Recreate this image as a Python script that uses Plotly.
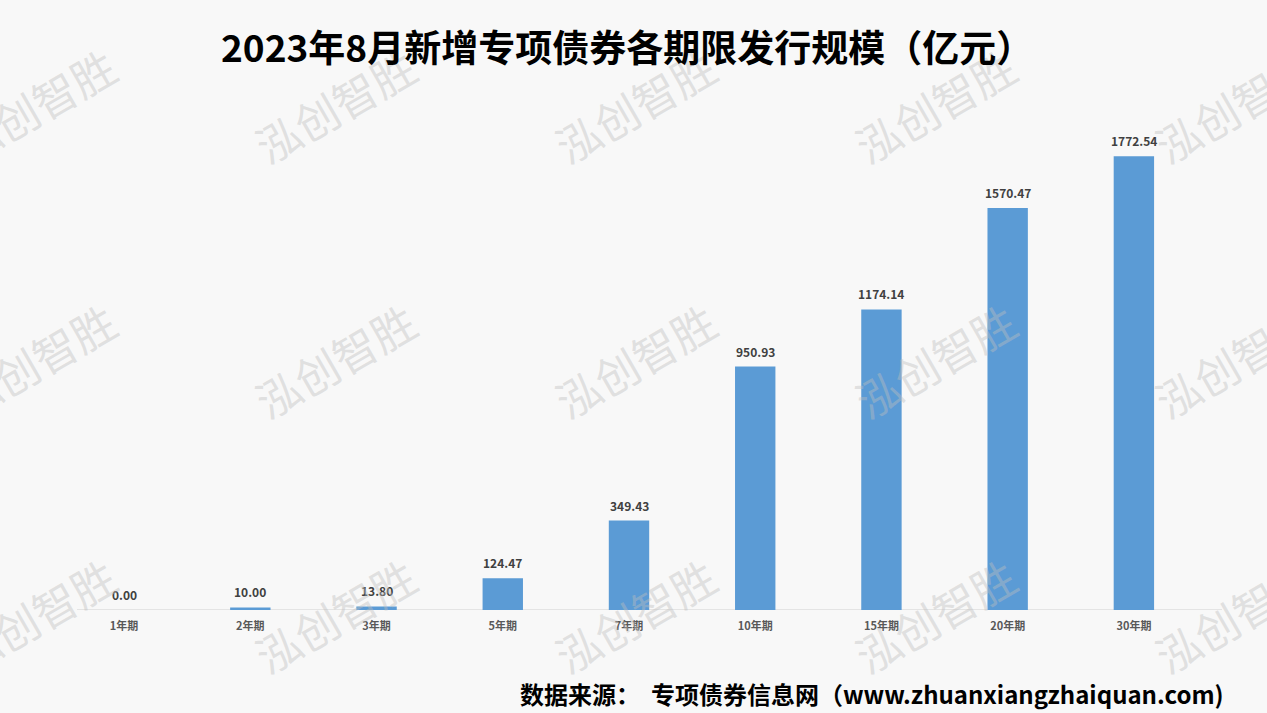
import plotly.graph_objects as go

categories = ["1年期", "2年期", "3年期", "5年期", "7年期", "10年期", "15年期", "20年期", "30年期"]
values = [0.00, 10.00, 13.80, 124.47, 349.43, 950.93, 1174.14, 1570.47, 1772.54]
value_labels = ["0.00", "10.00", "13.80", "124.47", "349.43", "950.93", "1174.14", "1570.47", "1772.54"]
title_text = "2023年8月新增专项债券各期限发行规模（亿元）"
source_text = "数据来源：  专项债券信息网（www.zhuanxiangzhaiquan.com)"
watermark_text = "泓创智胜"

W, H = 1267, 713
FONT = "Noto Sans CJK SC"

fig = go.Figure()
fig.add_trace(go.Bar(
    x=categories, y=values,
    marker=dict(color="#5B9BD5", line=dict(width=0)),
    width=0.32,
    cliponaxis=False,
))

annotations = []
for cat, val, lab in zip(categories, values, value_labels):
    annotations.append(dict(
        x=cat, y=val, xref="x", yref="y", text="<b>" + lab + "</b>",
        showarrow=False, yanchor="bottom", xanchor="center", yshift=5,
        font=dict(family=FONT, size=12, color="#404040"),
    ))
for cx in [35, 335, 635, 935, 1235]:
    for cy in [105, 360, 615]:
        annotations.append(dict(
            x=cx / W, y=1 - cy / H, xref="paper", yref="paper",
            text=watermark_text, showarrow=False, textangle=-30,
            font=dict(family=FONT, size=44, color="rgba(190,190,190,0.42)"),
            xanchor="center", yanchor="middle",
        ))
annotations.append(dict(
    x=627 / W, y=1 - 46 / H, xref="paper", yref="paper",
    text="<b>" + title_text + "</b>", showarrow=False,
    font=dict(family=FONT, size=37, color="#000000"),
    xanchor="center", yanchor="middle",
))
annotations.append(dict(
    x=1226 / W, y=1 - 693 / H, xref="paper", yref="paper",
    text="<b>" + source_text + "</b>", showarrow=False,
    font=dict(family=FONT, size=24, color="#000000"),
    xanchor="right", yanchor="middle",
))

fig.update_layout(
    width=W, height=H,
    margin=dict(l=0, r=0, t=0, b=0),
    paper_bgcolor="#f8f8f8", plot_bgcolor="#f8f8f8",
    showlegend=False,
    annotations=annotations,
    shapes=[dict(
        type="line", xref="paper", yref="y",
        x0=77 / W, x1=1222 / W, y0=0, y1=0,
        line=dict(color="#d0d0d0", width=1), layer="below",
    )],
)
fig.update_xaxes(
    domain=[61 / W, 1197 / W],
    showline=False, ticks="",
    ticklabelstandoff=8,
    tickfont=dict(family=FONT, size=11, color="#595959", weight="bold"),
    showgrid=False, zeroline=False,
)
fig.update_yaxes(
    domain=[1 - 610 / H, 1 - 98 / H],
    visible=False, range=[0, 2000], showgrid=False, zeroline=False,
)

fig.write_html(
    "out.html",
    config={"displayModeBar": False},
    post_script="document.body.style.margin='0';document.body.style.overflow='hidden';",
)
